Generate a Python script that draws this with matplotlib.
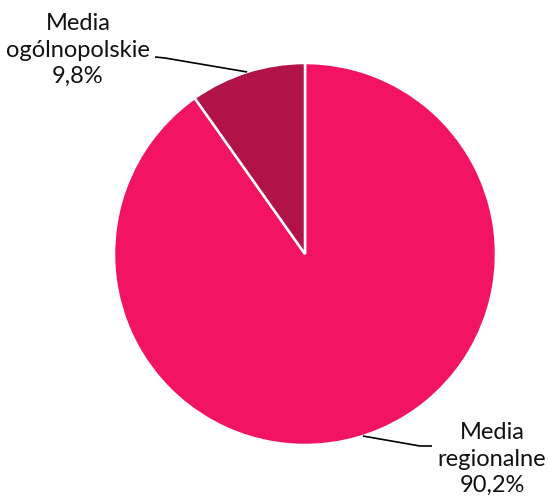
import numpy as np
import matplotlib.pyplot as plt

labels = ["Media\nregionalne", "Media\nogólnopolskie"]
shares = [90.2, 9.8]
colors = ["#F21463", "#B11348"]

plt.rcParams['font.family'] = ['Lato', 'DejaVu Sans']

W, H = 549, 499
fig = plt.figure(figsize=(W / 100, H / 100), dpi=100)
ax = fig.add_axes([0, 0, 1, 1])

cx, cy, r = 305, H - 254, 191
wedges, _ = ax.pie(shares, colors=colors, startangle=90, counterclock=False,
                   center=(cx, cy), radius=r,
                   wedgeprops=dict(edgecolor="white", linewidth=1.8))
ax.set_xlim(0, W)
ax.set_ylim(0, H)
ax.set_aspect("equal")
ax.axis("off")

# text centre, elbow of the leader line, end of the leader line
label_pos = [((492, H - 459), (420, H - 446), (432, H - 446)),
             ((78, H - 50), (165, H - 58), (155, H - 57))]

for w, lab, val, (tpos, elbow, end) in zip(wedges, labels, shares, label_pos):
    mid = np.deg2rad((w.theta1 + w.theta2) / 2)
    ax_pt = (cx + r * np.cos(mid), cy + r * np.sin(mid))
    ax.plot([ax_pt[0], elbow[0], end[0]], [ax_pt[1], elbow[1], end[1]],
            color="black", lw=1.2, solid_capstyle="butt")
    txt = f"{lab}\n{val:.1f}%".replace(".", ",")
    ax.text(tpos[0], tpos[1], txt, ha="center", va="center",
            fontsize=17, linespacing=1.33, color="#111111")

fig.savefig("out.png", dpi=100)
